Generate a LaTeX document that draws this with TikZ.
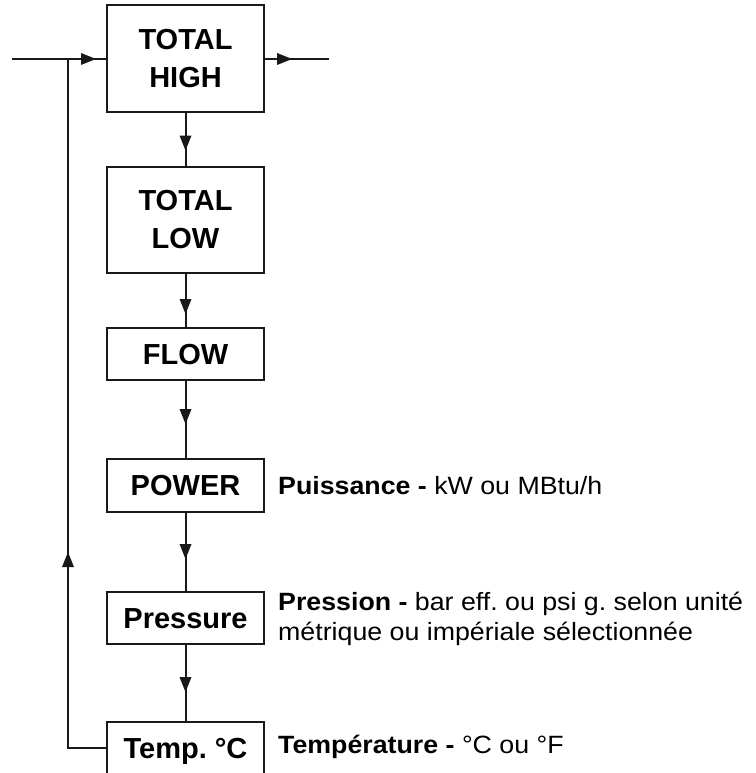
\documentclass[tikz,border=0pt]{standalone}
\usepackage{fontspec}
\setmainfont{Liberation Sans}
\newfontfamily\labfont[FakeStretch=1.07]{Liberation Sans}
\usetikzlibrary{decorations.markings}
\frenchspacing
\tikzset{
  box/.style={draw=black!90, line width=2pt, minimum width=157pt, inner sep=0pt,
    font=\bfseries\fontsize{29}{38}\selectfont, align=center},
  onebox/.style={box, text height=20.8pt, text depth=0pt},
  wire/.style={line width=2pt, draw=black!90},
  tipat/.style={postaction={decorate, decoration={markings,
    mark=at position #1 with {\fill[black!90] (1pt,0pt) -- (-14pt,6pt) -- (-14pt,-6pt) -- cycle;}}}},
  lab/.style={font=\labfont\fontsize{25}{30}\selectfont, anchor=base west, inner sep=0pt, align=left}
}
\begin{document}
\begin{tikzpicture}[x=1pt,y=-1pt]
\useasboundingbox (0,0) rectangle (755,773);
\node[box, minimum height=107pt] (high) at (185.5,59) {TOTAL\\HIGH};
\node[box, minimum height=106pt] (low) at (185.5,220) {TOTAL\\LOW};
\node[onebox, minimum height=52pt] (flow) at (185.5,354) {FLOW};
\node[onebox, minimum height=53pt] (power) at (185.5,485.5) {POWER};
\node[onebox, minimum height=52pt] (press) at (185.5,618) {Pressure};
\node[onebox, minimum height=52pt] (temp) at (185.5,748) {Temp. °C};
\coordinate (in) at (12,59);
\coordinate (out) at (329,59);
\coordinate (jn) at (68,59);
\draw[wire, tipat=83pt] (in) -- (high.west);
\draw[wire, tipat=26pt] (high.east) -- (out);
\draw[wire, tipat=36pt] (high.south) -- (low.north);
\draw[wire, tipat=39pt] (low.south) -- (flow.north);
\draw[wire, tipat=42pt] (flow.south) -- (power.north);
\draw[wire, tipat=45pt] (power.south) -- (press.north);
\draw[wire, tipat=46pt] (press.south) -- (temp.north);
\draw[wire, tipat=233pt] (temp.west) -| (jn);
\node[lab] (lpow) at (278,494) {\textbf{Puissance -} kW ou MBtu/h};
\node[lab] (lpress) at (278,640) {\textbf{Pression -} bar eff. ou psi g. selon unité\\métrique ou impériale sélectionnée};
\node[lab] (ltemp) at (278,753) {\textbf{Température -} °C ou °F};
\end{tikzpicture}
\end{document}
